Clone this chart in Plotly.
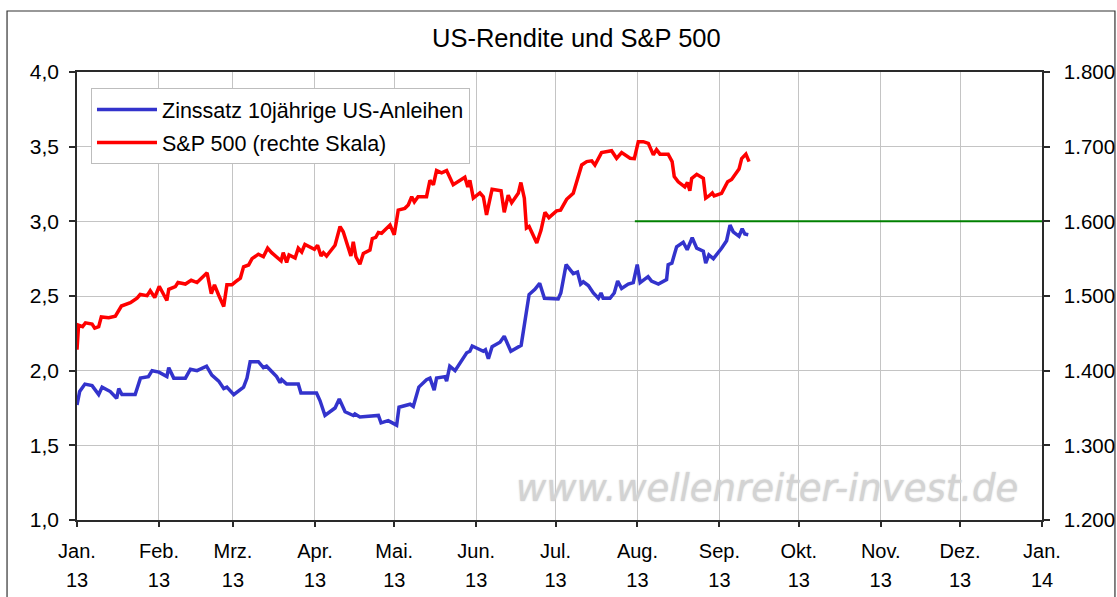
import pandas as pd
import plotly.graph_objects as go

# ---------------- data ----------------
start = pd.Timestamp("2013-01-01")

# 10-year US treasury yield (left axis), day offsets from 1 Jan 2013
yield_days = [0, 1, 3, 5.7, 8.2, 9.5, 12.6, 15, 15.8, 17, 22, 24, 27, 28.4, 31, 34, 34.7, 36.6, 41,
              42.9, 45.4, 49, 51, 53.6, 55.5, 56.7, 59.3, 63, 64.3, 65.5, 68.6, 70.5, 71.7, 75.5,
              76.8, 77.4, 79.3, 83.7, 84.7, 90.6, 91.9, 93.8, 97.6, 99.2, 101.4, 104.5, 105.1, 107,
              114, 115, 117.7, 120.9, 121.8, 126, 127.2, 129.3, 132.2, 133.5, 135.1, 136, 139.2,
              139.8, 141, 143, 147.4, 148.6, 149.5, 151.2, 153.7, 154.5, 155.6, 157, 160, 161.6,
              164.1, 168, 169.4, 171, 173.2, 175, 176.8, 182, 183, 185, 187.7, 189.3, 190.5, 191.5,
              193.4, 195.3, 197.2, 198.2, 199, 201.6, 203.2, 204.5, 206, 208.5, 210.4, 211.9, 213,
              216, 217.3, 219.9, 223, 223.6, 225, 226.8, 229.3, 230.8, 232.7, 234.4, 236.9, 237.8,
              239, 240.7, 243.8, 245.7, 247, 248.2, 250.4, 251.6, 252.6, 253.9]
yield_values = [1.77, 1.86, 1.91, 1.90, 1.84, 1.89, 1.86, 1.815, 1.88, 1.84, 1.84, 1.95, 1.96, 2.00,
                1.99, 1.96, 2.02, 1.95, 1.95, 2.01, 2.00, 2.03, 1.97, 1.93, 1.88, 1.89, 1.84, 1.89,
                1.95, 2.06, 2.06, 2.02, 2.03, 1.96, 1.92, 1.94, 1.91, 1.91, 1.85, 1.85, 1.80, 1.70,
                1.75, 1.81, 1.725, 1.70, 1.71, 1.69, 1.70, 1.65, 1.665, 1.635, 1.755, 1.775, 1.76,
                1.89, 1.94, 1.95, 1.87, 1.95, 1.96, 1.93, 2.03, 2.00, 2.12, 2.13, 2.165, 2.15, 2.13,
                2.14, 2.08, 2.16, 2.19, 2.23, 2.13, 2.17, 2.34, 2.51, 2.545, 2.585, 2.485, 2.48,
                2.52, 2.71, 2.65, 2.66, 2.58, 2.595, 2.57, 2.52, 2.485, 2.52, 2.485, 2.485, 2.52,
                2.60, 2.55, 2.58, 2.59, 2.71, 2.59, 2.63, 2.60, 2.58, 2.61, 2.71, 2.72, 2.83, 2.86,
                2.81, 2.89, 2.82, 2.80, 2.72, 2.775, 2.75, 2.82, 2.87, 2.975, 2.93, 2.90, 2.95,
                2.915, 2.91]

# S&P 500 (right axis)
spx_days = [0, 0.6, 2.1, 3.2, 5.7, 6.7, 8.2, 9.2, 12, 14.5, 16.8, 20.2, 22.7, 23.9, 26.5, 27.7, 29.4,
            31.1, 34, 34.7, 37.2, 38.2, 41, 43.2, 45.4, 49.2, 50.8, 52, 53.6, 55.5, 56.7, 58.6, 59.9,
            61.8, 63, 64.9, 66.2, 68.6, 70.5, 72.1, 73.6, 77.2, 78, 79.3, 80.2, 82.5, 83.7, 85, 86.2,
            89.8, 91, 92.3, 93.2, 94.4, 97.6, 99.5, 100.7, 102.6, 103.6, 104.5, 105.5, 107, 108.3,
            110.8, 111.7, 113, 114, 115.2, 118.4, 120, 121.5, 124, 125.3, 126.6, 127.6, 129, 132.2,
            133.5, 134.8, 136, 137.9, 139.8, 142.3, 146.7, 147.8, 148.6, 149.9, 152.4, 153.7, 154.9,
            155.8, 157, 160.4, 161.6, 163.1, 164.4, 166.9, 167.9, 169.2, 170, 171, 173.9, 175.5,
            177, 178.5, 181.4, 182.9, 185.2, 187.7, 189, 190.9, 192.8, 194.7, 195.9, 198.4, 202.2,
            204.1, 206, 209.2, 210.8, 212.3, 214.2, 216.1, 218, 219.2, 220.5, 223.6, 225.1, 225.9,
            227.4, 229.9, 230.9, 231.8, 232.5, 234.4, 236.9, 237.8, 239, 240.3, 241, 243.8, 246.1,
            247.6, 250.4, 251.4, 253, 254.2]
spx_values = [1428, 1461, 1459, 1464, 1462.5, 1457, 1459, 1472, 1471, 1473, 1486.6, 1491, 1497, 1502,
              1500.5, 1507, 1498, 1513, 1494, 1509, 1512.5, 1518, 1516, 1521, 1518, 1531, 1503, 1515,
              1501, 1486, 1515, 1515, 1519, 1524, 1539, 1541.5, 1550, 1556, 1552.6, 1564, 1558, 1547,
              1558, 1545, 1555, 1551, 1564, 1559, 1569, 1562.5, 1568, 1553.6, 1558, 1553.6, 1568,
              1593, 1586, 1564, 1553.6, 1572.7, 1552.6, 1542.5, 1557, 1561.6, 1577, 1578.5, 1585,
              1584, 1595, 1582, 1615, 1617.4, 1622, 1633, 1626, 1633, 1633, 1655, 1649, 1668, 1665,
              1668, 1649, 1659, 1646, 1655, 1631, 1638, 1633, 1608.5, 1626, 1643, 1641, 1612, 1635,
              1625, 1637.5, 1652, 1631, 1591, 1593, 1571, 1588, 1612, 1605, 1614, 1615, 1629.5,
              1637.5, 1652, 1675.5, 1680, 1681, 1675.5, 1692, 1694.6, 1684.4, 1692, 1684.4, 1684,
              1706.7, 1706.7, 1704.5, 1689, 1696, 1690, 1690, 1680, 1660, 1653, 1646, 1652, 1641,
              1657.6, 1663, 1657.6, 1631, 1634, 1638, 1634, 1637.5, 1653, 1656, 1670, 1684, 1690,
              1680]

# horizontal reference line at 3,0 %
ref_dates = ["2013-07-31", "2014-01-01"]
ref_level = [3.0, 3.0]

month_starts = ["2013-01-01", "2013-02-01", "2013-03-01", "2013-04-01", "2013-05-01", "2013-06-01",
                "2013-07-01", "2013-08-01", "2013-09-01", "2013-10-01", "2013-11-01", "2013-12-01",
                "2014-01-01"]
month_labels = ["Jan.", "Feb.", "Mrz.", "Apr.", "Mai.", "Jun.", "Jul.", "Aug.", "Sep.", "Okt.",
                "Nov.", "Dez.", "Jan."]
year_labels = ["13"] * 12 + ["14"]

yield_dates = start + pd.to_timedelta(yield_days, unit="D")
spx_dates = start + pd.to_timedelta(spx_days, unit="D")

# ---------------- figure ----------------
FONT = "Liberation Sans, Arial, sans-serif"
GRID = "#c4c4c4"
AX = "#2a2a2a"

fig = go.Figure()
fig.add_trace(go.Scatter(x=yield_dates, y=yield_values, mode="lines",
                         name="Zinssatz 10jährige US-Anleihen",
                         line=dict(color="#3333cc", width=3.5), legendgroup="a",
                         yaxis="y"))
fig.add_trace(go.Scatter(x=spx_dates, y=spx_values, mode="lines",
                         name="S&P 500 (rechte Skala)",
                         line=dict(color="#ff0000", width=3.5), legendgroup="b",
                         yaxis="y2"))
fig.add_trace(go.Scatter(x=ref_dates, y=ref_level, mode="lines", showlegend=False,
                         line=dict(color="#008000", width=2), yaxis="y", hoverinfo="skip"))
# helper trace so that the second (year) x axis is drawn
fig.add_trace(go.Scatter(x=month_starts, y=[None] * len(month_starts), xaxis="x2", yaxis="y",
                         showlegend=False, hoverinfo="skip", mode="lines"))

fig.update_layout(
    width=1117, height=597, autosize=False,
    margin=dict(l=77, r=75, t=72, b=77, pad=0, autoexpand=False),
    paper_bgcolor="white", plot_bgcolor="white",
    separators=",.",
    font=dict(family=FONT, size=20, color="black"),
    showlegend=True,
    legend=dict(x=0.0145, y=0.964, xanchor="left", yanchor="top",
                bgcolor="white", bordercolor="#bdbdbd", borderwidth=1,
                font=dict(size=21.5, family=FONT), itemwidth=60,
                traceorder="grouped", tracegroupgap=2),
    xaxis=dict(type="date", range=["2013-01-01", "2014-01-01"], automargin=False,
               tickmode="array", tickvals=month_starts, ticktext=month_labels,
               showgrid=True, gridcolor=GRID, gridwidth=1,
               showline=True, linecolor=AX, linewidth=1.5, mirror=True,
               ticks="outside", ticklen=5, tickcolor=AX, tickwidth=1.5,
               ticklabelstandoff=7, tickfont=dict(size=20), zeroline=False),
    xaxis2=dict(type="date", range=["2013-01-01", "2014-01-01"], overlaying="x", side="bottom",
                anchor="y", automargin=False, tickmode="array", tickvals=month_starts,
                ticktext=year_labels,
                showgrid=False, showline=False, ticks="", ticklabelstandoff=46,
                tickfont=dict(size=20), zeroline=False),
    yaxis=dict(range=[1.0, 4.0], dtick=0.5, tick0=1.0, tickformat=".1f", automargin=False,
               showgrid=True, gridcolor=GRID, gridwidth=1,
               showline=True, linecolor=AX, linewidth=1.5, mirror=True,
               ticks="outside", ticklen=6, tickcolor=AX, tickwidth=1.5,
               ticklabelstandoff=6, tickfont=dict(size=21), zeroline=False),
    yaxis2=dict(range=[1200, 1800], dtick=100, tick0=1200, tickformat=",.0f", automargin=False,
                overlaying="y", side="right", showgrid=False,
                showline=True, linecolor=AX, linewidth=1.5,
                ticks="outside", ticklen=6, tickcolor=AX, tickwidth=1.5,
                ticklabelstandoff=10, tickfont=dict(size=20.5), zeroline=False),
)

# outer chart frame
fig.add_shape(type="rect", xref="paper", yref="paper",
              x0=-0.0725, x1=1.0756, y0=-0.2, y1=1.1362,
              line=dict(color="#333333", width=1.2), layer="below")

# title
fig.add_annotation(text="US-Rendite und S&P 500", xref="paper", yref="paper",
                   x=0.518, y=1.076, xanchor="center", yanchor="middle", showarrow=False,
                   font=dict(size=25.5, family=FONT, color="black"))

# watermark
fig.add_annotation(text="www.wellenreiter-invest.de", xref="paper", yref="paper",
                   x=0.7155, y=0.0714, xanchor="center", yanchor="middle", showarrow=False,
                   font=dict(size=37, family="DejaVu Sans", style="italic", color="#d3d3d3",
                             shadow="0px 0px 2px #cfcfcf"))

page_fix = (
    "document.documentElement.style.margin='0';"
    "document.documentElement.style.overflow='hidden';"
    "document.body.style.margin='0';"
    "document.body.style.padding='0';"
    "document.body.style.overflow='hidden';"
)

fig.write_html("out.html", config={"displayModeBar": False}, post_script=page_fix)
